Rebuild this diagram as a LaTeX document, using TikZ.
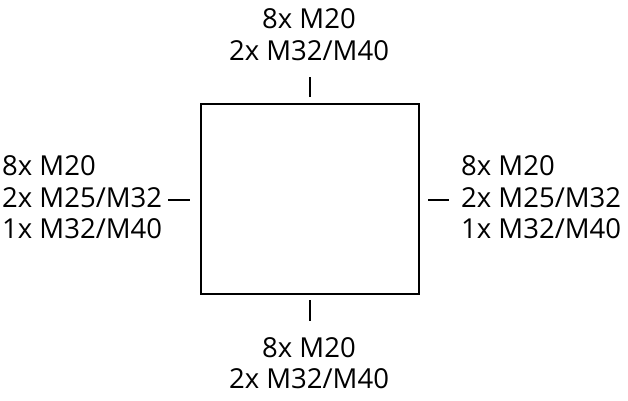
\documentclass[tikz,border=0pt]{standalone}
\usepackage{fontspec}
\setmainfont{Open Sans}
\begin{document}
\begin{tikzpicture}[x=1pt,y=-1pt,
  lbl/.style={inner sep=0pt,font=\fontsize{27.5}{32}\selectfont},
  tick/.style={line width=1.8pt}]
\useasboundingbox (0,0) rectangle (628,400);
\node[draw,line width=1.6pt,minimum width=218pt,minimum height=190pt,inner sep=0pt] (box) at (310,199) {};
% top
\node[lbl,anchor=base] (t1) at (309,28) {8x M20};
\node[lbl,anchor=base] (t2) at (309,60) {2x M32/M40};
% bottom
\node[lbl,anchor=base] (b1) at (309,357) {8x M20};
\node[lbl,anchor=base] (b2) at (309,388) {2x M32/M40};
% left
\node[lbl,anchor=base west] (l1) at (2,175) {8x M20};
\node[lbl,anchor=base west] (l2) at (2,207) {2x M25/M32};
\node[lbl,anchor=base west] (l3) at (2,238) {1x M32/M40};
% right
\node[lbl,anchor=base west] (r1) at (461,175) {8x M20};
\node[lbl,anchor=base west] (r2) at (461,207) {2x M25/M32};
\node[lbl,anchor=base west] (r3) at (461,238) {1x M32/M40};
% ticks
\coordinate (ta) at (310,77); \coordinate (tb) at (310,97);
\coordinate (ba) at (310,300); \coordinate (bb) at (310,321);
\coordinate (la) at (168,200); \coordinate (lb) at (190,200);
\coordinate (ra) at (428,200); \coordinate (rb) at (449,200);
\draw[tick] (ta) -- (tb);
\draw[tick] (ba) -- (bb);
\draw[tick] (la) -- (lb);
\draw[tick] (ra) -- (rb);
\end{tikzpicture}
\end{document}
